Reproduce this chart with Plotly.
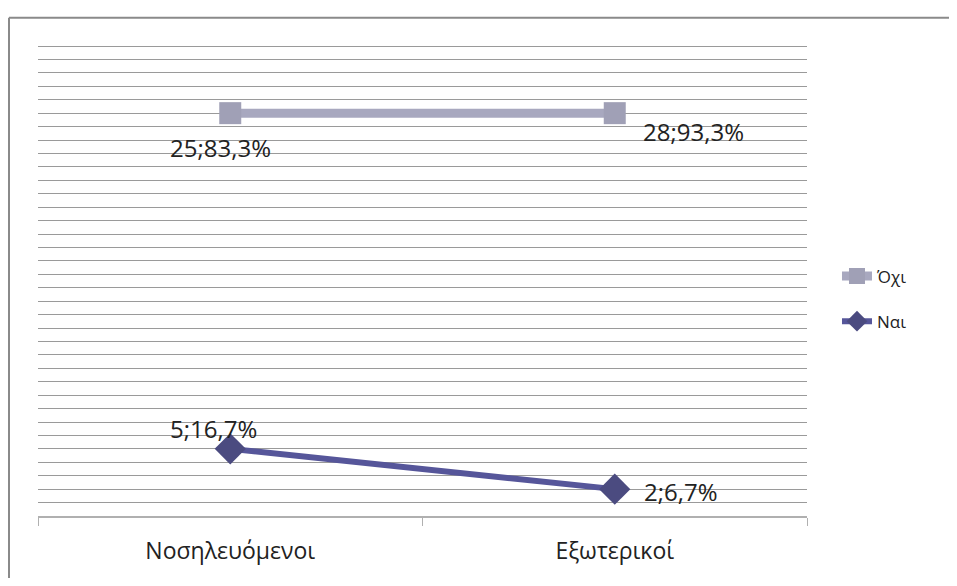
import plotly.graph_objects as go

categories = ["Νοσηλευόμενοι", "Εξωτερικοί"]
series_names = ["Όχι", "Ναι"]
oxi_values = [25, 28]
nai_values = [5, 2]

totals = [a + b for a, b in zip(nai_values, oxi_values)]
oxi_stacked = [a + b for a, b in zip(nai_values, oxi_values)]


def pct_label(v, t):
    return f"{v};{v / t * 100:.1f}%".replace(".", ",")


fig = go.Figure()
fig.add_trace(go.Scatter(
    x=categories, y=oxi_stacked, name=series_names[0], mode="lines+markers",
    line=dict(color="#a8a8bf", width=9),
    marker=dict(symbol="square", size=22, color="#a0a0b6"),
    legendgroup="a",
))
fig.add_trace(go.Scatter(
    x=categories, y=nai_values, name=series_names[1], mode="lines+markers",
    line=dict(color="#56569a", width=6),
    marker=dict(symbol="diamond", size=24, color="#4b4b80"),
    legendgroup="b",
))

lab_font = dict(family="Open Sans", size=24, color="#222222")
label_specs = [
    (0, oxi_stacked, oxi_values, "center", -10, -34),
    (1, oxi_stacked, oxi_values, "left", 26, -18),
    (0, nai_values, nai_values, "center", -17, 20),
    (1, nai_values, nai_values, "left", 27, -2),
]
for i, ys, vals, xa, xs, ys_ in label_specs:
    fig.add_annotation(
        x=categories[i], y=ys[i], text=pct_label(vals[i], totals[i]),
        showarrow=False, xanchor=xa, yanchor="middle", xshift=xs, yshift=ys_,
        font=lab_font,
    )

# outer chart frame (plot area spans page x 38..807, y 44..528)
frame_y = (528 - 17) / 484
frame_x = -29 / 769
fig.add_shape(type="line", xref="paper", yref="paper",
              x0=frame_x, x1=1.3, y0=frame_y, y1=frame_y,
              line=dict(color="#8a8a8a", width=2))
fig.add_shape(type="line", xref="paper", yref="paper",
              x0=frame_x, x1=frame_x, y0=frame_y, y1=-0.2,
              line=dict(color="#8a8a8a", width=2))

# page body adds an 8px offset; figure coords are page coords minus 8
fig.update_layout(
    width=941, height=570,
    margin=dict(l=30, r=142, t=36, b=50),
    paper_bgcolor="white", plot_bgcolor="white",
    showlegend=True,
    legend=dict(
        x=1.039, y=0.4597, xanchor="left", yanchor="middle",
        traceorder="grouped", tracegroupgap=20,
        font=dict(family="Open Sans", size=17, color="#222222"),
        bgcolor="rgba(0,0,0,0)",
    ),
    xaxis=dict(
        type="category", range=[-0.5, 1.5], showgrid=False, zeroline=False,
        showline=True, linecolor="#b0b0b0", linewidth=1.5,
        ticks="outside", tickson="boundaries", ticklen=8, tickcolor="#b0b0b0",
        ticklabelstandoff=14,
        tickfont=dict(family="Open Sans", size=23, color="#222222"),
    ),
    yaxis=dict(
        range=[0, 35.15], dtick=1, showgrid=True, gridcolor="#9a9a9a", gridwidth=1,
        showticklabels=False, zeroline=False, showline=False, ticks="",
    ),
)

fig.write_html("out.html")
